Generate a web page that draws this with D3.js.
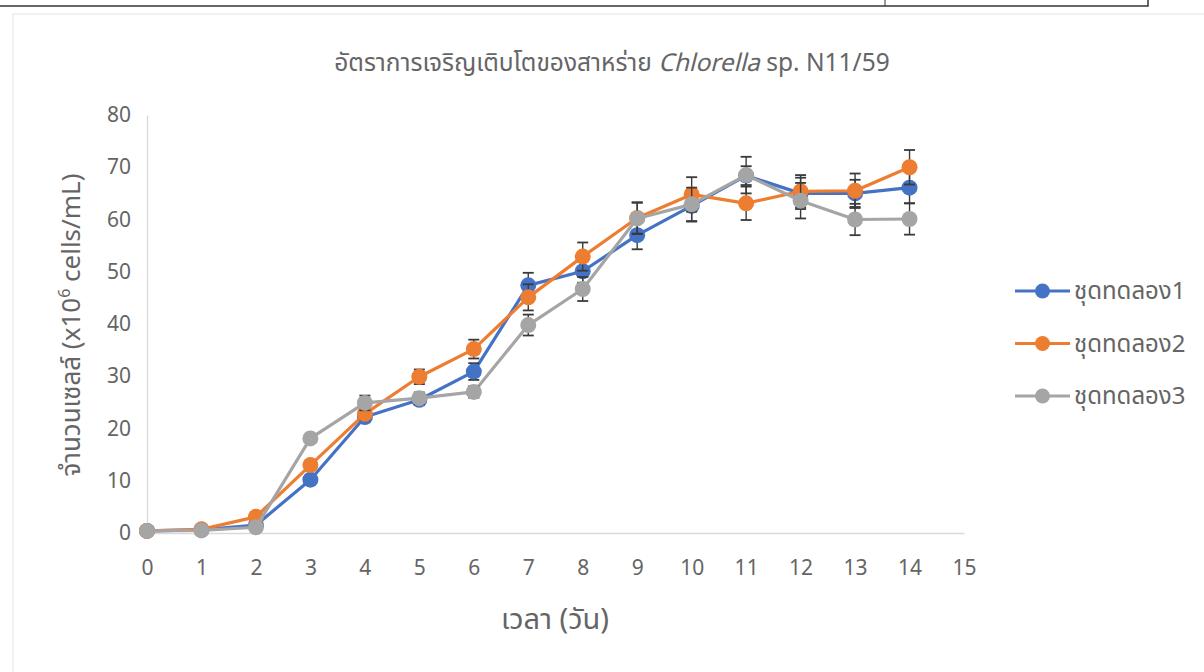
<!DOCTYPE html>
<html>
<head>
<meta charset="utf-8">
<script src="https://cdn.jsdelivr.net/npm/d3@7"></script>
<style>
  body { margin: 0; background: #fff; }
  text { font-family: "Noto Sans Thai", "Leelawadee UI", Tahoma, "Noto Sans", "DejaVu Sans", sans-serif; fill: #656565; }
</style>
</head>
<body>
<div id="chart"></div>
<script>
// growth of Chlorella sp. N11/59, three replicate sets

const days = [0, 1, 2, 3, 4, 5, 6, 7, 8, 9, 10, 11, 12, 13, 14];

const set1 = [0.4, 0.6, 1.5, 10.2, 22.2, 25.5, 30.9, 47.4, 50.1, 57.0, 62.6, 68.4, 65.0, 65.0, 66.1];
const set2 = [0.4, 0.7, 3.1, 13.0, 22.8, 29.9, 35.2, 45.1, 52.9, 60.3, 64.8, 63.1, 65.4, 65.5, 70.0];
const set3 = [0.4, 0.5, 1.1, 18.1, 24.9, 25.8, 27.0, 39.8, 46.7, 60.2, 62.9, 68.5, 63.6, 60.0, 60.1];

const err1 = [0.1, 0.1, 0.3, 0.8, 1.0, 1.0, 1.6, 2.4, 2.2, 2.7, 3.0, 1.8, 3.0, 2.6, 3.0];
const err2 = [0.1, 0.1, 0.4, 0.9, 1.1, 1.4, 1.8, 2.5, 2.7, 3.0, 3.3, 3.2, 3.1, 3.3, 3.3];
const err3 = [0.1, 0.1, 0.2, 0.7, 1.4, 1.1, 1.1, 2.0, 2.3, 3.0, 3.2, 3.5, 3.4, 3.0, 3.0];

const seriesNames = ["ชุดทดลอง1", "ชุดทดลอง2", "ชุดทดลอง3"];
const seriesColors = ["#4472C4", "#ED7D31", "#A5A5A5"];

const xTicks = d3.range(0, 16);
const yTicks = [0, 10, 20, 30, 40, 50, 60, 70, 80];

const series = [set1, set2, set3].map((vals, i) => ({
    name: seriesNames[i],
    color: seriesColors[i],
    points: days.map((d, j) => ({ day: d, value: vals[j], err: [err1, err2, err3][i][j] }))
}));

const W = 1204, H = 672;
const svg = d3.select("#chart").append("svg")
    .attr("width", W)
    .attr("height", H);

// scanned page bits: table edge at top and the chart frame
svg.append("rect")
    .attr("x", -2).attr("y", -4)
    .attr("width", 1150).attr("height", 10)
    .attr("fill", "none")
    .attr("stroke", "#333")
    .attr("stroke-width", 1.5);
svg.append("line")
    .attr("x1", 885).attr("x2", 885)
    .attr("y1", 0).attr("y2", 6)
    .attr("stroke", "#333");
svg.append("rect")
    .attr("x", 13).attr("y", 14)
    .attr("width", 1220).attr("height", 680)
    .attr("fill", "none")
    .attr("stroke", "#e4e4e4")
    .attr("stroke-width", 1);

const x = d3.scaleLinear().domain([0, 15]).range([147, 964]);
const y = d3.scaleLinear().domain([0, 80]).range([533, 115]);

// axes
const xAxis = svg.append("g")
    .attr("transform", `translate(0,${y(0)})`)
    .call(d3.axisBottom(x).tickValues(xTicks).tickSize(0).tickPadding(27).tickFormat(d3.format("d")));
xAxis.select(".domain").attr("stroke", "#d9d9d9").attr("stroke-width", 1.3);
xAxis.selectAll("text").style("font-size", "21px").attr("fill", "#656565");

const yAxis = svg.append("g")
    .attr("transform", `translate(${x(0)},0)`)
    .call(d3.axisLeft(y).tickValues(yTicks).tickSize(0).tickPadding(16));
yAxis.select(".domain").attr("stroke", "#d9d9d9").attr("stroke-width", 1.3);
yAxis.selectAll("text").style("font-size", "21px").attr("fill", "#656565");

// titles
svg.append("text")
    .attr("x", 612)
    .attr("y", 71)
    .attr("text-anchor", "middle")
    .style("font-size", "24.5px")
    .html("อัตราการเจริญเติบโตของสาหร่าย <tspan font-style='italic'>Chlorella</tspan> sp. N11/59");

svg.append("text")
    .attr("x", 555)
    .attr("y", 629)
    .attr("text-anchor", "middle")
    .style("font-size", "29px")
    .text("เวลา (วัน)");

svg.append("text")
    .attr("transform", "translate(80,325) rotate(-90)")
    .attr("text-anchor", "middle")
    .style("font-size", "26px")
    .html("จำนวนเซลล์ (x10<tspan dy='-10' font-size='16px'>6</tspan><tspan dy='10'> cells/mL)</tspan>");

// series
const line = d3.line().x(d => x(d.day)).y(d => y(d.value));

series.forEach(s => {
    const g = svg.append("g");

    g.append("path")
        .datum(s.points)
        .attr("fill", "none")
        .attr("stroke", s.color)
        .attr("stroke-width", 3.2)
        .attr("stroke-linejoin", "round")
        .attr("d", line);

    // error bars
    const eb = g.selectAll(".eb")
        .data(s.points)
        .join("g")
        .attr("class", "eb");
    eb.append("line")
        .attr("x1", d => x(d.day)).attr("x2", d => x(d.day))
        .attr("y1", d => y(d.value - d.err)).attr("y2", d => y(d.value + d.err))
        .attr("stroke", "#3a3a3a").attr("stroke-width", 1.4);
    [-1, 1].forEach(sign => {
        eb.append("line")
            .attr("x1", d => x(d.day) - 5.5).attr("x2", d => x(d.day) + 5.5)
            .attr("y1", d => y(d.value + sign * d.err)).attr("y2", d => y(d.value + sign * d.err))
            .attr("stroke", "#3a3a3a").attr("stroke-width", 1.8);
    });

    g.selectAll(".dot")
        .data(s.points)
        .join("circle")
        .attr("class", "dot")
        .attr("cx", d => x(d.day))
        .attr("cy", d => y(d.value))
        .attr("r", 8)
        .attr("fill", s.color);
});

// legend
const legend = svg.append("g").attr("transform", "translate(1015,291)");
series.forEach((s, i) => {
    const row = legend.append("g").attr("transform", `translate(0,${i * 52.5})`);
    row.append("line")
        .attr("x1", 0).attr("x2", 55)
        .attr("stroke", s.color).attr("stroke-width", 3.2);
    row.append("circle")
        .attr("cx", 27.5).attr("r", 7.5)
        .attr("fill", s.color);
    row.append("text")
        .attr("x", 59)
        .attr("y", 8)
        .style("font-size", "24px")
        .text(s.name);
});
</script>
</body>
</html>
